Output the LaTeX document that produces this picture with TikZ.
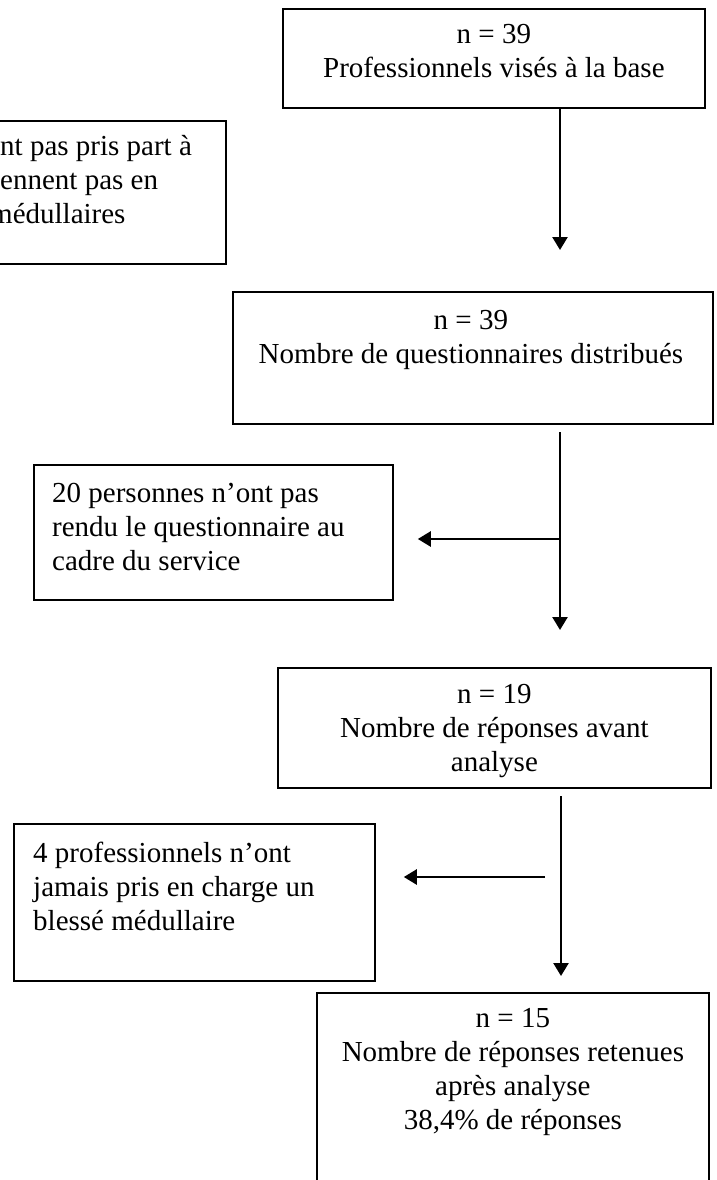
\documentclass[tikz,border=0pt]{standalone}
\usepackage{fontspec}
\setmainfont{Liberation Serif}
\usetikzlibrary{arrows.meta,calc}
\newcommand{\firstline}{\rule{0pt}{24pt}}
\begin{document}
\begin{tikzpicture}[x=1pt,y=-1pt,
  frame/.style={draw, line width=1.8pt, inner sep=0pt, anchor=north west},
  txt/.style={inner sep=0pt, font=\fontsize{29}{34}\selectfont},
  ctxt/.style={txt, align=center, anchor=north},
  ltxt/.style={txt, align=left, anchor=north west},
  flow/.style={line width=2.5pt, -{Triangle[length=13pt,width=15pt]}}]
\useasboundingbox (0,0) rectangle (717,1180);
\fill[white] (0,0) rectangle (717,1180);

% boxes of the main column
\node[frame, minimum width=422pt, minimum height=99pt]  (b1) at (282,8) {};
\node[frame, minimum width=480pt, minimum height=132pt] (b2) at (232,291) {};
\node[frame, minimum width=433pt, minimum height=120pt] (b3) at (277,667) {};
\node[frame, minimum width=392pt, minimum height=220pt] (b4) at (316,992) {};

% side boxes
\node[frame, minimum width=265pt, minimum height=143pt] (sA) at (-40,120) {};
\node[frame, minimum width=359pt, minimum height=135pt] (sB) at (33,464) {};
\node[frame, minimum width=361pt, minimum height=157pt] (sC) at (13,823) {};

% texts, centred in their boxes or set flush left
\node[ctxt] (t1) at ($(b1.north)+(0,11)$) {\firstline n = 39\\Professionnels visés à la base};
\node[ctxt] (t2) at ($(b2.north)+(-2,14)$) {\firstline n = 39\\Nombre de questionnaires distribués};
\node[ctxt] (t3) at ($(b3.north)+(0,12)$) {\firstline n = 19\\Nombre de réponses avant\\analyse};
\node[ctxt] (t4) at ($(b4.north)+(0,11)$) {\firstline n = 15\\Nombre de réponses retenues\\après analyse\\38,4\% de réponses};
\node[ltxt] (tA) at (0,{155-24}) {\firstline nt pas pris part à\\ennent pas en\\\hspace*{-10pt}médullaires};
\node[ltxt] (tB) at ($(sB.north west)+(19,14)$) {\firstline 20 personnes n’ont pas\\rendu le questionnaire au\\cadre du service};
\node[ltxt] (tC) at ($(sC.north west)+(20,15)$) {\firstline 4 professionnels n’ont\\jamais pris en charge un\\blessé médullaire};

% arrow ends and branch points
\coordinate (e1) at (560,250);
\coordinate (s2) at (560,432);
\coordinate (e2) at (560,630);
\coordinate (j2) at (560,539);
\coordinate (s3) at (561,796);
\coordinate (e3) at (561,976);
\coordinate (j3) at (545,877);

% connectors
\draw[flow] (b1.south -| e1) -- (e1);
\draw[flow] (s2) -- (e2);
\draw[flow] (j2) -- ($(sB.east |- j2)+(24,0)$);
\draw[flow] (s3) -- (e3);
\draw[flow] (j3) -- ($(sC.east |- j3)+(28,0)$);
\end{tikzpicture}
\end{document}
